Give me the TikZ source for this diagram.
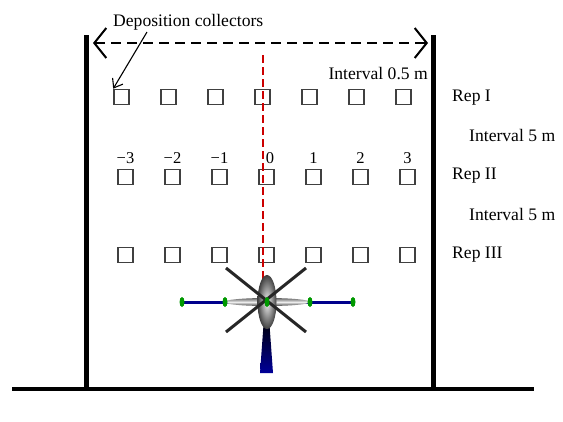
\documentclass[tikz,border=0pt]{standalone}
\usepackage{fontspec}
\setmainfont{Liberation Serif}
\usetikzlibrary{arrows.meta}

\begin{document}
\begin{tikzpicture}[x=1pt,y=-1pt,
  collector/.style={draw=black!75,line width=1.6pt,minimum size=15pt,inner sep=0pt},
  lbl/.style={font=\fontsize{17.6}{20}\selectfont,inner sep=0pt},
  num/.style={font=\fontsize{16.5}{18}\selectfont,inner sep=0pt}]
\useasboundingbox (0,0) rectangle (563,421);

% frame: two poles and the ground
\coordinate (lt) at (86.5,35);
\coordinate (lb) at (86.5,389);
\coordinate (rt) at (433.5,35);
\coordinate (rb) at (433.5,389);
\coordinate (g0) at (12,389);
\coordinate (g1) at (534,389);
\draw[line width=4.5pt] (lt) -- (lb);
\draw[line width=4.5pt] (rt) -- (rb);
\draw[line width=4.5pt] (g0) -- (g1);

% span between the poles
\coordinate (sl) at (93,43);
\coordinate (sr) at (428,43);
\draw[line width=1.6pt,dash pattern=on 10pt off 6pt,
  {Straight Barb[length=12pt,width=30pt,line width=2pt]}-{Straight Barb[length=12pt,width=30pt,line width=2pt]}] (sl) -- (sr);

% collectors, row I
\node[collector] (11) at (121.5,97) {};
\node[collector] (12) at (168.5,97) {};
\node[collector] (13) at (215.5,97) {};
\node[collector] (14) at (262.5,97) {};
\node[collector] (15) at (309.5,97) {};
\node[collector] (16) at (356.5,97) {};
\node[collector] (17) at (403.5,97) {};

% collectors, row II
\node[collector] (21) at (125.5,177) {};
\node[collector] (22) at (172.5,177) {};
\node[collector] (23) at (219.5,177) {};
\node[collector] (24) at (266.5,177) {};
\node[collector] (25) at (313.5,177) {};
\node[collector] (26) at (360.5,177) {};
\node[collector] (27) at (407.5,177) {};

% collectors, row III
\node[collector] (31) at (125.5,255) {};
\node[collector] (32) at (172.5,255) {};
\node[collector] (33) at (219.5,255) {};
\node[collector] (34) at (266.5,255) {};
\node[collector] (35) at (313.5,255) {};
\node[collector] (36) at (360.5,255) {};
\node[collector] (37) at (407.5,255) {};

% positions
\node[num,anchor=south] (n1) at (125.5,164) {−3};
\node[num,anchor=south] (n2) at (172.5,164) {−2};
\node[num,anchor=south] (n3) at (219.5,164) {−1};
\node[num,anchor=south] (n4) at (270,164) {0};
\node[num,anchor=south] (n5) at (313.5,164) {1};
\node[num,anchor=south] (n6) at (360.5,164) {2};
\node[num,anchor=south] (n7) at (407.5,164) {3};

% labels
\node[lbl,anchor=west] (dc) at (113,22) {Deposition collectors};
\node[lbl,anchor=east] (i0) at (428,74) {Interval 0.5 m};
\node[lbl,anchor=west] (r1) at (452,98) {Rep I};
\node[lbl,anchor=west] (i1) at (469,135) {Interval 5 m};
\node[lbl,anchor=west] (r2) at (452,176) {Rep II};
\node[lbl,anchor=west] (i2) at (469,214) {Interval 5 m};
\node[lbl,anchor=west] (r3) at (452,255) {Rep III};

\coordinate (dcs) at (147,32);
\draw[line width=1.1pt,-{Straight Barb[length=8pt,width=12pt,line width=1.1pt]}] (dcs) -- (11.north west);

% flight path
\coordinate (ft) at (263,55);
\coordinate (fb) at (263,282);
\draw[red!80!black,line width=2.4pt,dash pattern=on 8pt off 4pt] (ft) -- (fb);

% helicopter
\coordinate (hc) at (267,302);
\shade[top color=black,bottom color=blue!60!black] (264,318) -- (269,318) -- (273,373) -- (260,373) -- cycle;
\draw[blue!55!black,line width=3pt] (182,302) -- (353,302);
\shade[top color=black!60,bottom color=black!75,middle color=gray!15] (hc) ellipse [x radius=43pt,y radius=4pt];
\shade[inner color=gray!10,outer color=black!75] (hc) ellipse [x radius=9.5pt,y radius=27pt];
\draw[black!85,line width=3pt] (226,268) -- (306,332);
\draw[black!85,line width=3pt] (306,268) -- (226,332);
\fill[green!60!black] (182,302) ellipse [x radius=2.5pt,y radius=5pt];
\fill[green!60!black] (225,302) ellipse [x radius=2.5pt,y radius=5pt];
\fill[green!60!black] (267,302) ellipse [x radius=2.5pt,y radius=5pt];
\fill[green!60!black] (310,302) ellipse [x radius=2.5pt,y radius=5pt];
\fill[green!60!black] (353,302) ellipse [x radius=2.5pt,y radius=5pt];

\end{tikzpicture}
\end{document}
